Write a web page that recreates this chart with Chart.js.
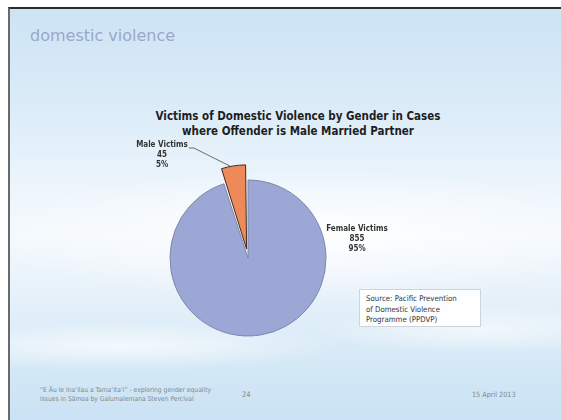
<!DOCTYPE html>
<html>
<head>
<meta charset="utf-8">
<script src="https://cdn.jsdelivr.net/npm/chart.js@4/dist/chart.umd.min.js"></script>
<style>
  html, body { margin: 0; padding: 0; background: #ffffff; }
  #slide {
    position: absolute; left: 8px; top: 7px; width: 553px; height: 413px;
    border-top: 2px solid #2b2b2b; border-left: 2px solid #6a6a6a;
    box-sizing: border-box; overflow: hidden;
    background:
      radial-gradient(ellipse 60% 16% at 55% 55%, rgba(255,255,255,0.9), rgba(255,255,255,0) 100%),
      radial-gradient(ellipse 40% 6% at 20% 82%, rgba(255,255,255,0.7), rgba(255,255,255,0) 100%),
      radial-gradient(ellipse 30% 6% at 85% 78%, rgba(255,255,255,0.6), rgba(255,255,255,0) 100%),
      linear-gradient(180deg, #cde4f5 0%, #dcecf8 25%, #eef6fc 45%, #f4f9fd 55%, #e6f1fa 70%, #d6e9f6 85%, #c9e2f4 100%);
  }
  .txt { position: absolute; white-space: nowrap; }
  #slideTitle { left: 20px; top: 17px; font: 16px "DejaVu Sans", sans-serif; color: #9ba6ca; }
  #chartTitle { left: 130px; width: 316px; top: 100px; text-align: center;
    font: bold 11.5px/15px "DejaVu Sans Condensed", "DejaVu Sans", sans-serif; color: #1e1e1e; }
  #source { left: 349px; top: 280px; width: 122px; height: 38px; background: rgba(255,255,255,0.92);
    border: 1px solid #d0d4d8; box-sizing: border-box; padding: 4px 0 0 6px;
    font: 7.8px/10.5px "DejaVu Sans Condensed", "DejaVu Sans", sans-serif; color: #333; }
  .foot { font: 6.7px/9px "DejaVu Sans Condensed", "DejaVu Sans", sans-serif; color: #808890; }
  #chartWrap { position: absolute; left: 0; top: 0; }
</style>
</head>
<body>
<div id="slide">
  <div class="txt" id="slideTitle">domestic violence</div>
  <div class="txt" id="chartTitle">Victims of Domestic Violence by Gender in Cases<br>where Offender is Male Married Partner</div>
  <div class="txt" id="source">Source: Pacific Prevention<br>of Domestic Violence<br>Programme (PPDVP)</div>
  <div class="txt foot" style="left:30px; top:377px;">“E Āu le Ina‘ilau a Tama‘ita‘i” - exploring gender equality<br>issues in Sāmoa by Galumalemana Steven Percival</div>
  <div class="txt foot" style="left:232px; top:381px; font-size:7.5px;">24</div>
  <div class="txt foot" style="left:462px; top:381px; font-size:7.2px;">15 April 2013</div>
</div>
<div id="chartWrap"><canvas id="pie" width="561" height="420"></canvas></div>
<script>
// Victims of domestic violence, split by gender of the victim
const categories = ['Female Victims', 'Male Victims'];
const victimCounts = [855, 45];

const sliceFill = ['#9ca7d5', '#ee8a5a'];
const sliceEdge = ['#7d86ab', '#3d2a22'];
const sliceOffset = [0, 36];

// where each slice's label block sits, relative to the pie centre
const labelSpots = [
  { dx: 109, dy: -29, leader: false },
  { dx: -86, dy: -113, leader: true }
];

// distance an exploded arc is actually moved by Chart.js v4's ArcElement
function arcShift(arc, offset) {
  const circ = arc.endAngle - arc.startAngle;
  const base = offset / 4;
  return base + base * (1 - Math.sin(Math.min(Math.PI, circ)));
}

const sliceLabels = {
  id: 'sliceLabels',
  afterDatasetsDraw(chart) {
    const ctx = chart.ctx;
    const meta = chart.getDatasetMeta(0);
    const values = chart.data.datasets[0].data;
    const total = values.reduce((a, b) => a + b, 0);
    ctx.save();
    ctx.font = 'bold 8px "DejaVu Sans Condensed", "DejaVu Sans", sans-serif';
    ctx.fillStyle = '#333333';
    ctx.textAlign = 'center';
    ctx.textBaseline = 'middle';
    meta.data.forEach((arc, i) => {
      const p = arc.getProps(['x', 'y', 'startAngle', 'endAngle', 'outerRadius'], true);
      const mid = (p.startAngle + p.endAngle) / 2;
      const shift = arcShift(p, sliceOffset[i]);
      const spot = labelSpots[i];
      const lx = p.x + spot.dx, ly = p.y + spot.dy;
      const lines = [chart.data.labels[i], String(values[i]), Math.round(values[i] / total * 100) + '%'];
      lines.forEach((t, k) => ctx.fillText(t, lx, ly + k * 10));
      if (spot.leader) {
        const w = ctx.measureText(lines[0]).width;
        const sx = lx + w / 2 + 1, sy = ly + 3;
        const ex = p.x + Math.cos(mid - 0.03) * (p.outerRadius + shift);
        const ey = p.y + Math.sin(mid - 0.03) * (p.outerRadius + shift);
        ctx.strokeStyle = '#4a4a4a';
        ctx.lineWidth = 0.8;
        ctx.beginPath();
        ctx.moveTo(sx, sy);
        ctx.lineTo(sx + 5, sy);
        ctx.lineTo(ex, ey);
        ctx.stroke();
      }
    });
    ctx.restore();
  }
};

new Chart(document.getElementById('pie'), {
  type: 'pie',
  data: {
    labels: categories,
    datasets: [{
      data: victimCounts,
      backgroundColor: sliceFill,
      borderColor: sliceEdge,
      borderWidth: 1,
      offset: sliceOffset
    }]
  },
  options: {
    responsive: false,
    animation: false,
    radius: 78,
    layout: { padding: { left: 100, right: 165, top: 150, bottom: 54 } },
    plugins: { legend: { display: false }, tooltip: { enabled: false }, title: { display: false } }
  },
  plugins: [sliceLabels]
});
</script>
</body>
</html>
